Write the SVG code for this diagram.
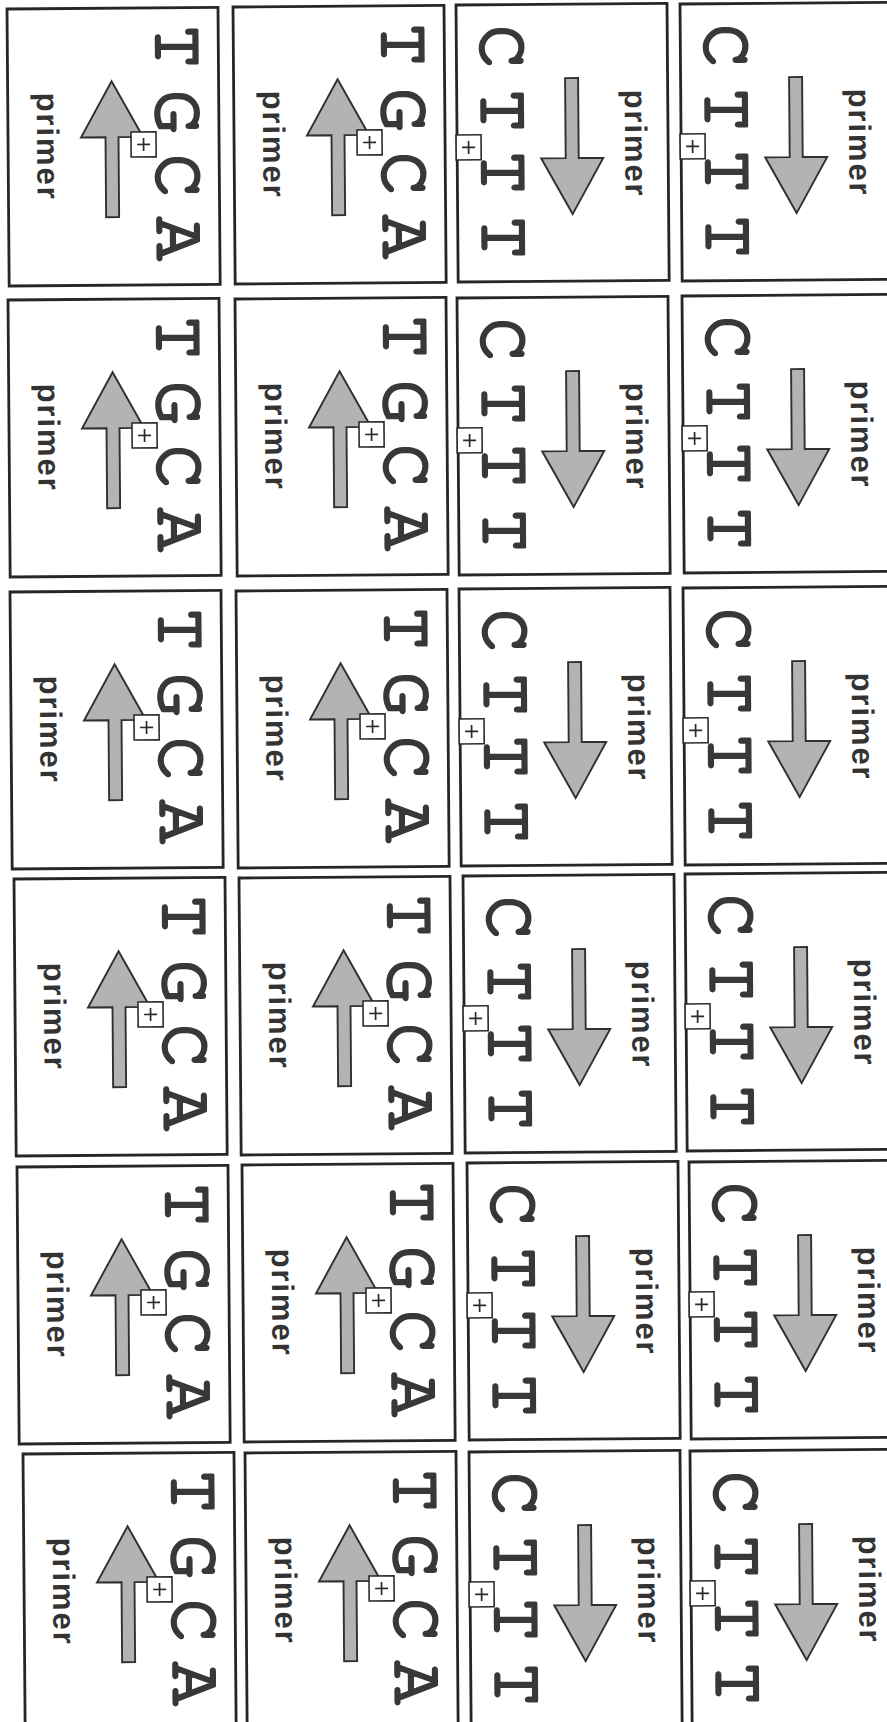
<svg xmlns="http://www.w3.org/2000/svg" width="887" height="1722" viewBox="0 0 887 1722">
<style>
.card{fill:#fff;stroke:#262626;stroke-width:2.8}
.arr{fill:#b3b3b3;stroke:#303030;stroke-width:1.9}
.pb{fill:#fff;stroke:#2a2a2a;stroke-width:1.6}
.pl{fill:none;stroke:#2a2a2a;stroke-width:1.7}
.b{font-family:"FreeMono","Nimbus Mono PS","Courier New","Liberation Mono",monospace;font-weight:normal;font-size:72px;fill:#383838;stroke:#383838;stroke-width:3.2;stroke-linejoin:round;text-anchor:middle}
.p{font-family:"Liberation Sans",Arial,sans-serif;font-weight:bold;font-size:31px;fill:#333;text-anchor:middle}
</style>
<rect width="887" height="1722" fill="#fff"/>

<g id="card-r1c1" transform="translate(7,9) rotate(-0.45)">
<rect class="card" width="211" height="277"/>
<path class="arr" d="M104,73 L135,129 H110.5 V209 H97.5 V129 H73 Z"/>
<text class="b" transform="translate(149,39) rotate(90)">T</text>
<text class="b" transform="translate(149,104) rotate(90)">G</text>
<text class="b" transform="translate(149,168) rotate(90)">C</text>
<text class="b" transform="translate(149,231) rotate(90)">A</text>
<rect class="pb" x="123" y="124" width="25" height="25"/><path class="pl" d="M129,136.5h13M135.5,130v13"/>
<text class="p" transform="translate(29,137) rotate(90)" textLength="106" lengthAdjust="spacing">primer</text>
</g>
<g id="card-r1c2" transform="translate(233,7) rotate(-0.45)">
<rect class="card" width="211" height="277"/>
<path class="arr" d="M104,73 L135,129 H110.5 V209 H97.5 V129 H73 Z"/>
<text class="b" transform="translate(149,39) rotate(90)">T</text>
<text class="b" transform="translate(149,104) rotate(90)">G</text>
<text class="b" transform="translate(149,168) rotate(90)">C</text>
<text class="b" transform="translate(149,231) rotate(90)">A</text>
<rect class="pb" x="123" y="124" width="25" height="25"/><path class="pl" d="M129,136.5h13M135.5,130v13"/>
<text class="p" transform="translate(29,137) rotate(90)" textLength="106" lengthAdjust="spacing">primer</text>
</g>
<g id="card-r1c3" transform="translate(456,5) rotate(-0.45)">
<rect class="card" width="211" height="277"/>
<path class="arr" d="M108.5,74 H121.5 V154 H146 L115,210 L84,154 H108.5 Z"/>
<text class="b" transform="translate(25,42) rotate(90)">C</text>
<text class="b" transform="translate(25,106) rotate(90)">T</text>
<text class="b" transform="translate(25,168) rotate(90)">T</text>
<text class="b" transform="translate(25,233) rotate(90)">T</text>
<rect class="pb" x="-1" y="130" width="25" height="25"/><path class="pl" d="M5,142.5h13M11.5,136v13"/>
<text class="p" transform="translate(168,139) rotate(90)" textLength="106" lengthAdjust="spacing">primer</text>
</g>
<g id="card-r1c4" transform="translate(680,4) rotate(-0.45)">
<rect class="card" width="211" height="277"/>
<path class="arr" d="M108.5,74 H121.5 V154 H146 L115,210 L84,154 H108.5 Z"/>
<text class="b" transform="translate(25,42) rotate(90)">C</text>
<text class="b" transform="translate(25,106) rotate(90)">T</text>
<text class="b" transform="translate(25,168) rotate(90)">T</text>
<text class="b" transform="translate(25,233) rotate(90)">T</text>
<rect class="pb" x="-1" y="130" width="25" height="25"/><path class="pl" d="M5,142.5h13M11.5,136v13"/>
<text class="p" transform="translate(168,139) rotate(90)" textLength="106" lengthAdjust="spacing">primer</text>
</g>

<g id="card-r2c1" transform="translate(8,300) rotate(-0.45)">
<rect class="card" width="211" height="277"/>
<path class="arr" d="M104,73 L135,129 H110.5 V209 H97.5 V129 H73 Z"/>
<text class="b" transform="translate(149,39) rotate(90)">T</text>
<text class="b" transform="translate(149,104) rotate(90)">G</text>
<text class="b" transform="translate(149,168) rotate(90)">C</text>
<text class="b" transform="translate(149,231) rotate(90)">A</text>
<rect class="pb" x="123" y="124" width="25" height="25"/><path class="pl" d="M129,136.5h13M135.5,130v13"/>
<text class="p" transform="translate(29,137) rotate(90)" textLength="106" lengthAdjust="spacing">primer</text>
</g>
<g id="card-r2c2" transform="translate(235,299) rotate(-0.45)">
<rect class="card" width="211" height="277"/>
<path class="arr" d="M104,73 L135,129 H110.5 V209 H97.5 V129 H73 Z"/>
<text class="b" transform="translate(149,39) rotate(90)">T</text>
<text class="b" transform="translate(149,104) rotate(90)">G</text>
<text class="b" transform="translate(149,168) rotate(90)">C</text>
<text class="b" transform="translate(149,231) rotate(90)">A</text>
<rect class="pb" x="123" y="124" width="25" height="25"/><path class="pl" d="M129,136.5h13M135.5,130v13"/>
<text class="p" transform="translate(29,137) rotate(90)" textLength="106" lengthAdjust="spacing">primer</text>
</g>
<g id="card-r2c3" transform="translate(457,298) rotate(-0.45)">
<rect class="card" width="211" height="277"/>
<path class="arr" d="M108.5,74 H121.5 V154 H146 L115,210 L84,154 H108.5 Z"/>
<text class="b" transform="translate(25,42) rotate(90)">C</text>
<text class="b" transform="translate(25,106) rotate(90)">T</text>
<text class="b" transform="translate(25,168) rotate(90)">T</text>
<text class="b" transform="translate(25,233) rotate(90)">T</text>
<rect class="pb" x="-1" y="130" width="25" height="25"/><path class="pl" d="M5,142.5h13M11.5,136v13"/>
<text class="p" transform="translate(168,139) rotate(90)" textLength="106" lengthAdjust="spacing">primer</text>
</g>
<g id="card-r2c4" transform="translate(682,296) rotate(-0.45)">
<rect class="card" width="211" height="277"/>
<path class="arr" d="M108.5,74 H121.5 V154 H146 L115,210 L84,154 H108.5 Z"/>
<text class="b" transform="translate(25,42) rotate(90)">C</text>
<text class="b" transform="translate(25,106) rotate(90)">T</text>
<text class="b" transform="translate(25,168) rotate(90)">T</text>
<text class="b" transform="translate(25,233) rotate(90)">T</text>
<rect class="pb" x="-1" y="130" width="25" height="25"/><path class="pl" d="M5,142.5h13M11.5,136v13"/>
<text class="p" transform="translate(168,139) rotate(90)" textLength="106" lengthAdjust="spacing">primer</text>
</g>

<g id="card-r3c1" transform="translate(10,592) rotate(-0.45)">
<rect class="card" width="211" height="277"/>
<path class="arr" d="M104,73 L135,129 H110.5 V209 H97.5 V129 H73 Z"/>
<text class="b" transform="translate(149,39) rotate(90)">T</text>
<text class="b" transform="translate(149,104) rotate(90)">G</text>
<text class="b" transform="translate(149,168) rotate(90)">C</text>
<text class="b" transform="translate(149,231) rotate(90)">A</text>
<rect class="pb" x="123" y="124" width="25" height="25"/><path class="pl" d="M129,136.5h13M135.5,130v13"/>
<text class="p" transform="translate(29,137) rotate(90)" textLength="106" lengthAdjust="spacing">primer</text>
</g>
<g id="card-r3c2" transform="translate(236,591) rotate(-0.45)">
<rect class="card" width="211" height="277"/>
<path class="arr" d="M104,73 L135,129 H110.5 V209 H97.5 V129 H73 Z"/>
<text class="b" transform="translate(149,39) rotate(90)">T</text>
<text class="b" transform="translate(149,104) rotate(90)">G</text>
<text class="b" transform="translate(149,168) rotate(90)">C</text>
<text class="b" transform="translate(149,231) rotate(90)">A</text>
<rect class="pb" x="123" y="124" width="25" height="25"/><path class="pl" d="M129,136.5h13M135.5,130v13"/>
<text class="p" transform="translate(29,137) rotate(90)" textLength="106" lengthAdjust="spacing">primer</text>
</g>
<g id="card-r3c3" transform="translate(459,589) rotate(-0.45)">
<rect class="card" width="211" height="277"/>
<path class="arr" d="M108.5,74 H121.5 V154 H146 L115,210 L84,154 H108.5 Z"/>
<text class="b" transform="translate(25,42) rotate(90)">C</text>
<text class="b" transform="translate(25,106) rotate(90)">T</text>
<text class="b" transform="translate(25,168) rotate(90)">T</text>
<text class="b" transform="translate(25,233) rotate(90)">T</text>
<rect class="pb" x="-1" y="130" width="25" height="25"/><path class="pl" d="M5,142.5h13M11.5,136v13"/>
<text class="p" transform="translate(168,139) rotate(90)" textLength="106" lengthAdjust="spacing">primer</text>
</g>
<g id="card-r3c4" transform="translate(683,588) rotate(-0.45)">
<rect class="card" width="211" height="277"/>
<path class="arr" d="M108.5,74 H121.5 V154 H146 L115,210 L84,154 H108.5 Z"/>
<text class="b" transform="translate(25,42) rotate(90)">C</text>
<text class="b" transform="translate(25,106) rotate(90)">T</text>
<text class="b" transform="translate(25,168) rotate(90)">T</text>
<text class="b" transform="translate(25,233) rotate(90)">T</text>
<rect class="pb" x="-1" y="130" width="25" height="25"/><path class="pl" d="M5,142.5h13M11.5,136v13"/>
<text class="p" transform="translate(168,139) rotate(90)" textLength="106" lengthAdjust="spacing">primer</text>
</g>

<g id="card-r4c1" transform="translate(14,879) rotate(-0.45)">
<rect class="card" width="211" height="277"/>
<path class="arr" d="M104,73 L135,129 H110.5 V209 H97.5 V129 H73 Z"/>
<text class="b" transform="translate(149,39) rotate(90)">T</text>
<text class="b" transform="translate(149,104) rotate(90)">G</text>
<text class="b" transform="translate(149,168) rotate(90)">C</text>
<text class="b" transform="translate(149,231) rotate(90)">A</text>
<rect class="pb" x="123" y="124" width="25" height="25"/><path class="pl" d="M129,136.5h13M135.5,130v13"/>
<text class="p" transform="translate(29,137) rotate(90)" textLength="106" lengthAdjust="spacing">primer</text>
</g>
<g id="card-r4c2" transform="translate(239,878) rotate(-0.45)">
<rect class="card" width="211" height="277"/>
<path class="arr" d="M104,73 L135,129 H110.5 V209 H97.5 V129 H73 Z"/>
<text class="b" transform="translate(149,39) rotate(90)">T</text>
<text class="b" transform="translate(149,104) rotate(90)">G</text>
<text class="b" transform="translate(149,168) rotate(90)">C</text>
<text class="b" transform="translate(149,231) rotate(90)">A</text>
<rect class="pb" x="123" y="124" width="25" height="25"/><path class="pl" d="M129,136.5h13M135.5,130v13"/>
<text class="p" transform="translate(29,137) rotate(90)" textLength="106" lengthAdjust="spacing">primer</text>
</g>
<g id="card-r4c3" transform="translate(463,876) rotate(-0.45)">
<rect class="card" width="211" height="277"/>
<path class="arr" d="M108.5,74 H121.5 V154 H146 L115,210 L84,154 H108.5 Z"/>
<text class="b" transform="translate(25,42) rotate(90)">C</text>
<text class="b" transform="translate(25,106) rotate(90)">T</text>
<text class="b" transform="translate(25,168) rotate(90)">T</text>
<text class="b" transform="translate(25,233) rotate(90)">T</text>
<rect class="pb" x="-1" y="130" width="25" height="25"/><path class="pl" d="M5,142.5h13M11.5,136v13"/>
<text class="p" transform="translate(168,139) rotate(90)" textLength="106" lengthAdjust="spacing">primer</text>
</g>
<g id="card-r4c4" transform="translate(685,874) rotate(-0.45)">
<rect class="card" width="211" height="277"/>
<path class="arr" d="M108.5,74 H121.5 V154 H146 L115,210 L84,154 H108.5 Z"/>
<text class="b" transform="translate(25,42) rotate(90)">C</text>
<text class="b" transform="translate(25,106) rotate(90)">T</text>
<text class="b" transform="translate(25,168) rotate(90)">T</text>
<text class="b" transform="translate(25,233) rotate(90)">T</text>
<rect class="pb" x="-1" y="130" width="25" height="25"/><path class="pl" d="M5,142.5h13M11.5,136v13"/>
<text class="p" transform="translate(168,139) rotate(90)" textLength="106" lengthAdjust="spacing">primer</text>
</g>

<g id="card-r5c1" transform="translate(17,1167) rotate(-0.45)">
<rect class="card" width="211" height="277"/>
<path class="arr" d="M104,73 L135,129 H110.5 V209 H97.5 V129 H73 Z"/>
<text class="b" transform="translate(149,39) rotate(90)">T</text>
<text class="b" transform="translate(149,104) rotate(90)">G</text>
<text class="b" transform="translate(149,168) rotate(90)">C</text>
<text class="b" transform="translate(149,231) rotate(90)">A</text>
<rect class="pb" x="123" y="124" width="25" height="25"/><path class="pl" d="M129,136.5h13M135.5,130v13"/>
<text class="p" transform="translate(29,137) rotate(90)" textLength="106" lengthAdjust="spacing">primer</text>
</g>
<g id="card-r5c2" transform="translate(242,1165) rotate(-0.45)">
<rect class="card" width="211" height="277"/>
<path class="arr" d="M104,73 L135,129 H110.5 V209 H97.5 V129 H73 Z"/>
<text class="b" transform="translate(149,39) rotate(90)">T</text>
<text class="b" transform="translate(149,104) rotate(90)">G</text>
<text class="b" transform="translate(149,168) rotate(90)">C</text>
<text class="b" transform="translate(149,231) rotate(90)">A</text>
<rect class="pb" x="123" y="124" width="25" height="25"/><path class="pl" d="M129,136.5h13M135.5,130v13"/>
<text class="p" transform="translate(29,137) rotate(90)" textLength="106" lengthAdjust="spacing">primer</text>
</g>
<g id="card-r5c3" transform="translate(467,1163) rotate(-0.45)">
<rect class="card" width="211" height="277"/>
<path class="arr" d="M108.5,74 H121.5 V154 H146 L115,210 L84,154 H108.5 Z"/>
<text class="b" transform="translate(25,42) rotate(90)">C</text>
<text class="b" transform="translate(25,106) rotate(90)">T</text>
<text class="b" transform="translate(25,168) rotate(90)">T</text>
<text class="b" transform="translate(25,233) rotate(90)">T</text>
<rect class="pb" x="-1" y="130" width="25" height="25"/><path class="pl" d="M5,142.5h13M11.5,136v13"/>
<text class="p" transform="translate(168,139) rotate(90)" textLength="106" lengthAdjust="spacing">primer</text>
</g>
<g id="card-r5c4" transform="translate(689,1162) rotate(-0.45)">
<rect class="card" width="211" height="277"/>
<path class="arr" d="M108.5,74 H121.5 V154 H146 L115,210 L84,154 H108.5 Z"/>
<text class="b" transform="translate(25,42) rotate(90)">C</text>
<text class="b" transform="translate(25,106) rotate(90)">T</text>
<text class="b" transform="translate(25,168) rotate(90)">T</text>
<text class="b" transform="translate(25,233) rotate(90)">T</text>
<rect class="pb" x="-1" y="130" width="25" height="25"/><path class="pl" d="M5,142.5h13M11.5,136v13"/>
<text class="p" transform="translate(168,139) rotate(90)" textLength="106" lengthAdjust="spacing">primer</text>
</g>

<g id="card-r6c1" transform="translate(23,1454) rotate(-0.45)">
<rect class="card" width="211" height="277"/>
<path class="arr" d="M104,73 L135,129 H110.5 V209 H97.5 V129 H73 Z"/>
<text class="b" transform="translate(149,39) rotate(90)">T</text>
<text class="b" transform="translate(149,104) rotate(90)">G</text>
<text class="b" transform="translate(149,168) rotate(90)">C</text>
<text class="b" transform="translate(149,231) rotate(90)">A</text>
<rect class="pb" x="123" y="124" width="25" height="25"/><path class="pl" d="M129,136.5h13M135.5,130v13"/>
<text class="p" transform="translate(29,137) rotate(90)" textLength="106" lengthAdjust="spacing">primer</text>
</g>
<g id="card-r6c2" transform="translate(245,1453) rotate(-0.45)">
<rect class="card" width="211" height="277"/>
<path class="arr" d="M104,73 L135,129 H110.5 V209 H97.5 V129 H73 Z"/>
<text class="b" transform="translate(149,39) rotate(90)">T</text>
<text class="b" transform="translate(149,104) rotate(90)">G</text>
<text class="b" transform="translate(149,168) rotate(90)">C</text>
<text class="b" transform="translate(149,231) rotate(90)">A</text>
<rect class="pb" x="123" y="124" width="25" height="25"/><path class="pl" d="M129,136.5h13M135.5,130v13"/>
<text class="p" transform="translate(29,137) rotate(90)" textLength="106" lengthAdjust="spacing">primer</text>
</g>
<g id="card-r6c3" transform="translate(469,1452) rotate(-0.45)">
<rect class="card" width="211" height="277"/>
<path class="arr" d="M108.5,74 H121.5 V154 H146 L115,210 L84,154 H108.5 Z"/>
<text class="b" transform="translate(25,42) rotate(90)">C</text>
<text class="b" transform="translate(25,106) rotate(90)">T</text>
<text class="b" transform="translate(25,168) rotate(90)">T</text>
<text class="b" transform="translate(25,233) rotate(90)">T</text>
<rect class="pb" x="-1" y="130" width="25" height="25"/><path class="pl" d="M5,142.5h13M11.5,136v13"/>
<text class="p" transform="translate(168,139) rotate(90)" textLength="106" lengthAdjust="spacing">primer</text>
</g>
<g id="card-r6c4" transform="translate(690,1451) rotate(-0.45)">
<rect class="card" width="211" height="277"/>
<path class="arr" d="M108.5,74 H121.5 V154 H146 L115,210 L84,154 H108.5 Z"/>
<text class="b" transform="translate(25,42) rotate(90)">C</text>
<text class="b" transform="translate(25,106) rotate(90)">T</text>
<text class="b" transform="translate(25,168) rotate(90)">T</text>
<text class="b" transform="translate(25,233) rotate(90)">T</text>
<rect class="pb" x="-1" y="130" width="25" height="25"/><path class="pl" d="M5,142.5h13M11.5,136v13"/>
<text class="p" transform="translate(168,139) rotate(90)" textLength="106" lengthAdjust="spacing">primer</text>
</g>
</svg>
